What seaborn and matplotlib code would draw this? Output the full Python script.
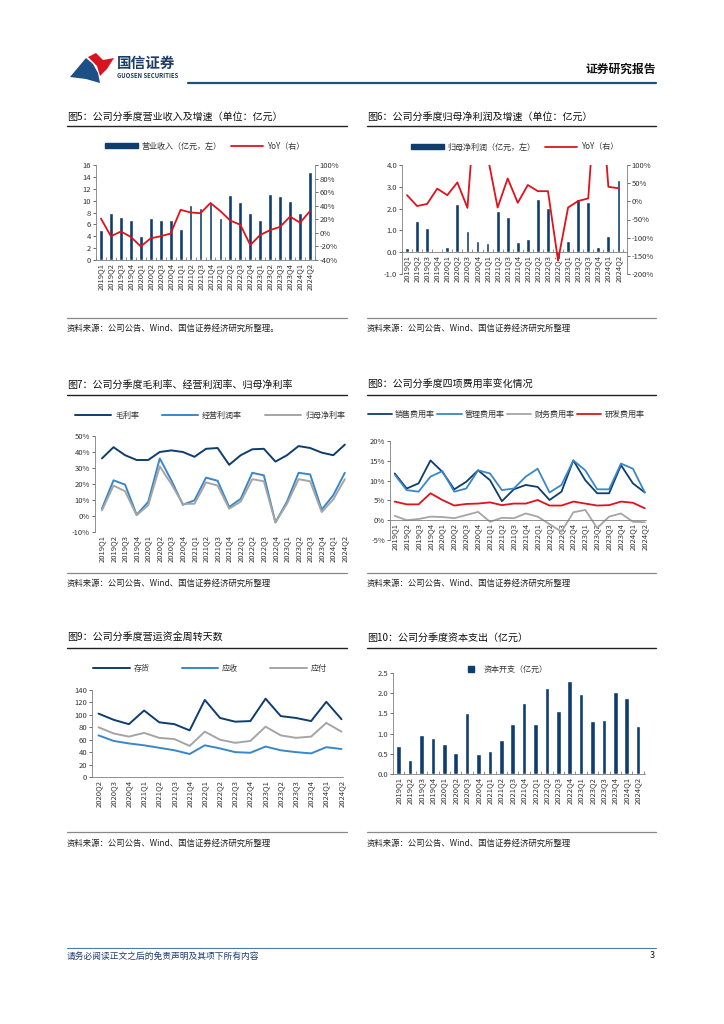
import numpy as np
import pandas as pd
import matplotlib
matplotlib.use('Agg')
import matplotlib.pyplot as plt
import seaborn as sns
from matplotlib.patches import Polygon, Rectangle
from matplotlib.lines import Line2D

# --------------------------
# Data
# --------------------------
quarters = ['2019Q1', '2019Q2', '2019Q3', '2019Q4', '2020Q1', '2020Q2', '2020Q3', '2020Q4',
            '2021Q1', '2021Q2', '2021Q3', '2021Q4', '2022Q1', '2022Q2', '2022Q3', '2022Q4',
            '2023Q1', '2023Q2', '2023Q3', '2023Q4', '2024Q1', '2024Q2']
quarters_wc = quarters[5:]  # 2020Q2 - 2024Q2

revenue = [5.0, 7.9, 7.2, 6.7, 4.0, 7.1, 6.7, 6.7, 5.3, 9.3, 8.8, 9.6,
           7.1, 11.0, 9.8, 7.9, 6.8, 11.2, 10.7, 10.0, 7.9, 14.9]
revenue_yoy = [21, -5, 2, -6, -20, -8, -5, -1, 34, 30, 29, 44,
               32, 18, 12, -18, -3, 4, 9, 24, 15, 32]

net_profit = [0.17, 1.44, 1.10, 0.07, 0.23, 2.22, 0.96, 0.50, 0.44, 1.88, 1.60, 0.47,
              0.62, 2.43, 2.04, -0.33, 0.53, 2.43, 2.28, 0.24, 0.76, 3.32]
net_profit_yoy = [17, -13, -7, 35, 17, 52, -18, 350, 125, -17, 63, -4,
                  45, 28, 28, -163, -17, 1, 8, 400, 40, 36]

gross_margin = [36, 43, 38, 35, 35, 40, 41, 40, 37, 42, 42.5, 32,
                38, 41.7, 42, 34, 38, 43.7, 42.5, 39.6, 38, 44.6]
op_margin = [4.6, 22.3, 19.6, 0.8, 8.8, 36, 22.3, 7, 9.8, 24, 22, 5.6,
             10.8, 27, 25.4, -4, 9, 27, 26, 4, 13, 27]
net_margin = [3.5, 19, 15.5, 0.5, 6.7, 31, 20, 7.5, 7.7, 21, 19, 4.6,
              9, 23, 21.7, -4, 7.7, 23, 21.7, 2.5, 10.4, 23]

sales_exp = [11.8, 8.0, 9.3, 15.1, 12.2, 7.8, 9.7, 12.6, 10.1, 4.8, 7.8, 8.9,
             8.4, 5.1, 7.2, 15.1, 10.1, 6.8, 6.8, 13.9, 9.3, 7.0]
admin_exp = [11.5, 7.6, 7.2, 11.0, 12.4, 7.2, 8.0, 12.6, 11.8, 7.6, 8.0, 11.0,
             13.0, 7.0, 8.9, 15.1, 12.6, 7.8, 7.8, 14.3, 13.0, 7.0]
fin_exp = [1.1, 0.0, 0.3, 0.9, 0.8, 0.5, 1.3, 2.1, -0.4, 0.6, 0.5, 1.7,
           0.9, -1.0, -2.9, 2.0, 2.6, -2.0, 0.9, 1.7, -0.4, -0.5]
rd_exp = [4.7, 4.0, 4.0, 6.8, 5.1, 3.7, 4.1, 4.2, 4.5, 3.8, 4.2, 4.2,
          5.1, 3.7, 3.7, 4.7, 4.2, 3.7, 3.8, 4.7, 4.4, 3.0]

inventory_days = [102, 92, 85, 107, 88, 85, 75, 124, 95, 89, 90, 126, 98, 95, 90, 121, 93]
receivable_days = [67, 58, 54, 51, 47, 43, 37, 51, 46, 40, 39, 49, 43, 40, 38, 48, 45]
payable_days = [80, 70, 65, 71, 63, 61, 50, 73, 60, 55, 58, 81, 67, 63, 65, 87, 73]

capex = [0.69, 0.34, 0.96, 0.88, 0.74, 0.51, 1.50, 0.49, 0.57, 0.84, 1.25, 1.75,
         1.25, 2.14, 1.57, 2.31, 1.98, 1.32, 1.33, 2.02, 1.87, 1.20]

# --------------------------
# Style
# --------------------------
sns.set_theme(style='white')
plt.rcParams['font.family'] = ['Noto Sans CJK SC', 'DejaVu Sans']
plt.rcParams['axes.unicode_minus'] = False

W, H = 724, 1024
NAVY = '#0e3d6e'
LBLUE = '#3a87c8'
GRAY = '#a5a5a5'
RED = '#e0121c'
AXC = '#7f7f7f'
TXT = '#333333'
TICK_FS = 5.5

fig = plt.figure(figsize=(7.24, 10.24), dpi=100)


def box(x0, y0, x1, y1):
    # pixel box -> figure fraction rect
    return [x0 / W, 1 - y1 / H, (x1 - x0) / W, (y1 - y0) / H]


def ftext(x, y, s, **kw):
    fig.text(x / W, 1 - y / H, s, **kw)


def fline(x0, x1, y, **kw):
    fig.add_artist(Line2D([x0 / W, x1 / W], [1 - y / H, 1 - y / H], transform=fig.transFigure, **kw))


def base_style(ax, labels, xlim, ylim, yticks, fmt, bottom=False, bottom_at=None, boundary_ticks=False):
    # spine position first: moving a spine resets the tick settings of its axis
    ax.spines['bottom'].set_visible(bottom)
    ax.spines['bottom'].set_color(AXC)
    ax.spines['bottom'].set_linewidth(0.6)
    if bottom_at is not None:
        ax.spines['bottom'].set_position(('data', bottom_at))
    ax.set_xlim(*xlim)
    ax.set_ylim(*ylim)
    ax.set_yticks(yticks)
    ax.yaxis.set_major_formatter(fmt)
    ax.set_xticks(range(len(labels)))
    ax.set_xticklabels(labels, rotation=90, fontsize=TICK_FS, color=TXT)
    ax.tick_params(axis='y', labelsize=TICK_FS, colors=TXT, length=2, width=0.5, pad=1.5, left=True)
    ax.tick_params(axis='x', which='major', length=0, pad=2)
    if boundary_ticks:
        ax.set_xticks(np.arange(-0.5, len(labels), 1), minor=True)
        ax.tick_params(axis='x', which='minor', direction='in', length=2.5, width=0.6, color=AXC, bottom=True)
    ax.set_xlabel('')
    ax.set_ylabel('')
    ax.grid(False)
    ax.set_facecolor('none')
    for s in ['top', 'right']:
        ax.spines[s].set_visible(False)
    ax.spines['left'].set_color(AXC)
    ax.spines['left'].set_linewidth(0.6)


def right_style(axr, ylim, yticks, fmt):
    axr.set_ylim(*ylim)
    axr.set_yticks(yticks)
    axr.yaxis.set_major_formatter(fmt)
    axr.tick_params(axis='y', labelsize=TICK_FS, colors=TXT, length=2, width=0.5, pad=1.5, right=True)
    axr.set_ylabel('')
    axr.grid(False)
    for s in ['top', 'left', 'bottom']:
        axr.spines[s].set_visible(False)
    axr.spines['right'].set_color(AXC)
    axr.spines['right'].set_linewidth(0.6)


pct = lambda v, p: f'{v:.0f}%'
one_dec = lambda v, p: f'{v:.1f}'
integer = lambda v, p: f'{v:.0f}'
idx22 = np.arange(len(quarters))
idx17 = np.arange(len(quarters_wc))

# --------------------------
# Header / footer
# --------------------------
fig.add_artist(Polygon([(70 / W, 1 - 77 / H), (86 / W, 1 - 58 / H), (93 / W, 1 - 64 / H), (98 / W, 1 - 73 / H),
                        (100 / W, 1 - 83 / H), (86 / W, 1 - 79 / H)], closed=True,
                       transform=fig.transFigure, color='#1b4f86', lw=0))
fig.add_artist(Polygon([(88 / W, 1 - 57 / H), (96 / W, 1 - 53 / H), (103 / W, 1 - 60 / H), (114 / W, 1 - 58 / H),
                        (107 / W, 1 - 69 / H), (100 / W, 1 - 76 / H), (97 / W, 1 - 66 / H)], closed=True,
                       transform=fig.transFigure, color='#d7141f', lw=0))
ftext(117, 63, '国信证券', fontsize=10.5, fontweight='bold', color='#1f3b63', va='center')
ftext(117, 76, 'GUOSEN SECURITIES', fontsize=4.3, fontweight='bold', color='#1f3b63', va='center')
fline(188, 656, 82.5, color='#1f4e79', lw=1.6)
ftext(656, 69, '证券研究报告', fontsize=8.5, fontweight='bold', color='#111111', ha='right', va='center')

fline(67, 656, 948, color='#4a7ab0', lw=0.8)
ftext(67, 956, '请务必阅读正文之后的免责声明及其项下所有内容', fontsize=6.3, color='#1f3b6e',
      va='center', style='italic')
ftext(655, 956, '3', fontsize=6.5, color='#111111', ha='right', va='center')

# --------------------------
# Section titles, rules and sources
# --------------------------
titles = [
    (67, 117, '图5：公司分季度营业收入及增速（单位：亿元）'),
    (367, 117, '图6：公司分季度归母净利润及增速（单位：亿元）'),
    (67, 385, '图7：公司分季度毛利率、经营利润率、归母净利率'),
    (367, 385, '图8：公司分季度四项费用率变化情况'),
    (67, 638, '图9：公司分季度营运资金周转天数'),
    (367, 638, '图10：公司分季度资本支出（亿元）'),
]
for x, y, t in titles:
    ftext(x, y, t, fontsize=7.2, color='#111111', va='center')
for y in [126, 395, 648]:
    fline(67, 347, y, color='#222222', lw=1.0)
    fline(367, 656, y, color='#222222', lw=1.0)
for y in [318, 573, 832]:
    fline(67, 347, y, color='#888888', lw=0.9)
    fline(367, 656, y, color='#888888', lw=0.9)
sources = [
    (67, 328, '资料来源：公司公告、Wind、国信证券经济研究所整理。'),
    (367, 328, '资料来源：公司公告、Wind、国信证券经济研究所整理'),
    (67, 583, '资料来源：公司公告、Wind、国信证券经济研究所整理'),
    (367, 583, '资料来源：公司公告、Wind、国信证券经济研究所整理'),
    (67, 843, '资料来源：公司公告、Wind、国信证券经济研究所整理'),
    (367, 843, '资料来源：公司公告、Wind、国信证券经济研究所整理'),
]
for x, y, t in sources:
    ftext(x, y, t, fontsize=6.0, color='#222222', va='center')

leg_kw = dict(loc='center', frameon=False, fontsize=5.8, labelcolor=TXT, handletextpad=0.5)

# --------------------------
# Figure 5: revenue + YoY
# --------------------------
ax = fig.add_axes(box(96, 165, 315, 260))
sns.barplot(x=quarters, y=revenue, color=NAVY, saturation=1, width=0.38, ax=ax)
axr = ax.twinx()
sns.lineplot(x=idx22, y=revenue_yoy, color=RED, lw=1.3, ax=axr)
base_style(ax, quarters, (-0.5, 21.2), (0, 16), range(0, 17, 2), integer, bottom=True, boundary_ticks=True)
right_style(axr, (-40, 100), range(-40, 101, 20), pct)
fig.legend([Rectangle((0, 0), 1, 1, color=NAVY), Line2D([], [], color=RED, lw=1.3)],
           ['营业收入（亿元，左）', 'YoY（右）'], bbox_to_anchor=(205 / W, 1 - 146 / H), ncol=2,
           handlelength=4, handleheight=0.5, columnspacing=1.2, **leg_kw)

# --------------------------
# Figure 6: net profit + YoY
# --------------------------
ax = fig.add_axes(box(402, 165, 627, 274))
sns.barplot(x=quarters, y=net_profit, color=NAVY, saturation=1, width=0.38, ax=ax)
axr = ax.twinx()
sns.lineplot(x=idx22, y=net_profit_yoy, color=RED, lw=1.3, ax=axr)
base_style(ax, quarters, (-0.5, 21.85), (-1, 4), range(-1, 5), one_dec,
           bottom=True, bottom_at=0, boundary_ticks=True)
right_style(axr, (-200, 100), range(-200, 101, 50), pct)
fig.legend([Rectangle((0, 0), 1, 1, color=NAVY), Line2D([], [], color=RED, lw=1.3)],
           ['归母净利润（亿元，左）', 'YoY（右）'], bbox_to_anchor=(515 / W, 1 - 147 / H), ncol=2,
           handlelength=4, handleheight=0.5, columnspacing=1.2, **leg_kw)

# --------------------------
# Figure 7: margins
# --------------------------
ax = fig.add_axes(box(95, 436, 346, 532))
margins = pd.DataFrame({
    'q': np.tile(idx22, 3),
    'v': gross_margin + op_margin + net_margin,
    's': ['毛利率'] * 22 + ['经营利润率'] * 22 + ['归母净利率'] * 22,
})
sns.lineplot(data=margins, x='q', y='v', hue='s', palette=[NAVY, LBLUE, GRAY], lw=1.4, legend=False, ax=ax)
base_style(ax, quarters, (-0.6, 21.1), (-10, 50), range(-10, 51, 10), pct)
fig.legend([Line2D([], [], color=c, lw=1.4) for c in [NAVY, LBLUE, GRAY]],
           ['毛利率', '经营利润率', '归母净利率'], bbox_to_anchor=(210 / W, 1 - 415 / H), ncol=3,
           handlelength=4.5, columnspacing=2.8, **leg_kw)

# --------------------------
# Figure 8: expense ratios
# --------------------------
ax = fig.add_axes(box(390, 441, 646, 540))
expenses = pd.DataFrame({
    'q': np.tile(idx22, 4),
    'v': sales_exp + admin_exp + fin_exp + rd_exp,
    's': ['销售费用率'] * 22 + ['管理费用率'] * 22 + ['财务费用率'] * 22 + ['研发费用率'] * 22,
})
sns.lineplot(data=expenses, x='q', y='v', hue='s', palette=[NAVY, LBLUE, GRAY, RED], lw=1.3, legend=False, ax=ax)
base_style(ax, quarters, (-0.4, 21.1), (-5, 20), range(-5, 21, 5), pct, bottom=True, bottom_at=0)
fig.legend([Line2D([], [], color=c, lw=1.3) for c in [NAVY, LBLUE, GRAY, RED]],
           ['销售费用率', '管理费用率', '财务费用率', '研发费用率'], bbox_to_anchor=(506 / W, 1 - 414 / H), ncol=4,
           handlelength=3.0, columnspacing=0.3, handletextpad=0.4, loc='center', frameon=False,
           fontsize=5.8, labelcolor=TXT)

# --------------------------
# Figure 9: working capital days
# --------------------------
ax = fig.add_axes(box(92, 690, 343, 777))
wc = pd.DataFrame({
    'q': np.tile(idx17, 3),
    'v': inventory_days + receivable_days + payable_days,
    's': ['存货'] * 17 + ['应收'] * 17 + ['应付'] * 17,
})
sns.lineplot(data=wc, x='q', y='v', hue='s', palette=[NAVY, LBLUE, GRAY], lw=1.4, legend=False, ax=ax)
base_style(ax, quarters_wc, (-0.43, 16.1), (0, 140), range(0, 141, 20), integer, bottom=True)
fig.legend([Line2D([], [], color=c, lw=1.4) for c in [NAVY, LBLUE, GRAY]],
           ['存货', '应收', '应付'], bbox_to_anchor=(210 / W, 1 - 668 / H), ncol=3,
           handlelength=4.5, columnspacing=4.0, **leg_kw)

# --------------------------
# Figure 10: capex
# --------------------------
ax = fig.add_axes(box(393, 673, 645, 774))
sns.barplot(x=quarters, y=capex, color=NAVY, saturation=1, width=0.4, ax=ax)
base_style(ax, quarters, (-0.5, 21.6), (0, 2.5), np.arange(0, 2.51, 0.5), one_dec,
           bottom=True, boundary_ticks=True)
fig.legend([Line2D([], [], color=NAVY, marker='s', ls='none', markersize=4)],
           ['资本开支（亿元）'], bbox_to_anchor=(505 / W, 1 - 669 / H), **leg_kw)

fig.savefig('out.png', dpi=100, facecolor='white')
